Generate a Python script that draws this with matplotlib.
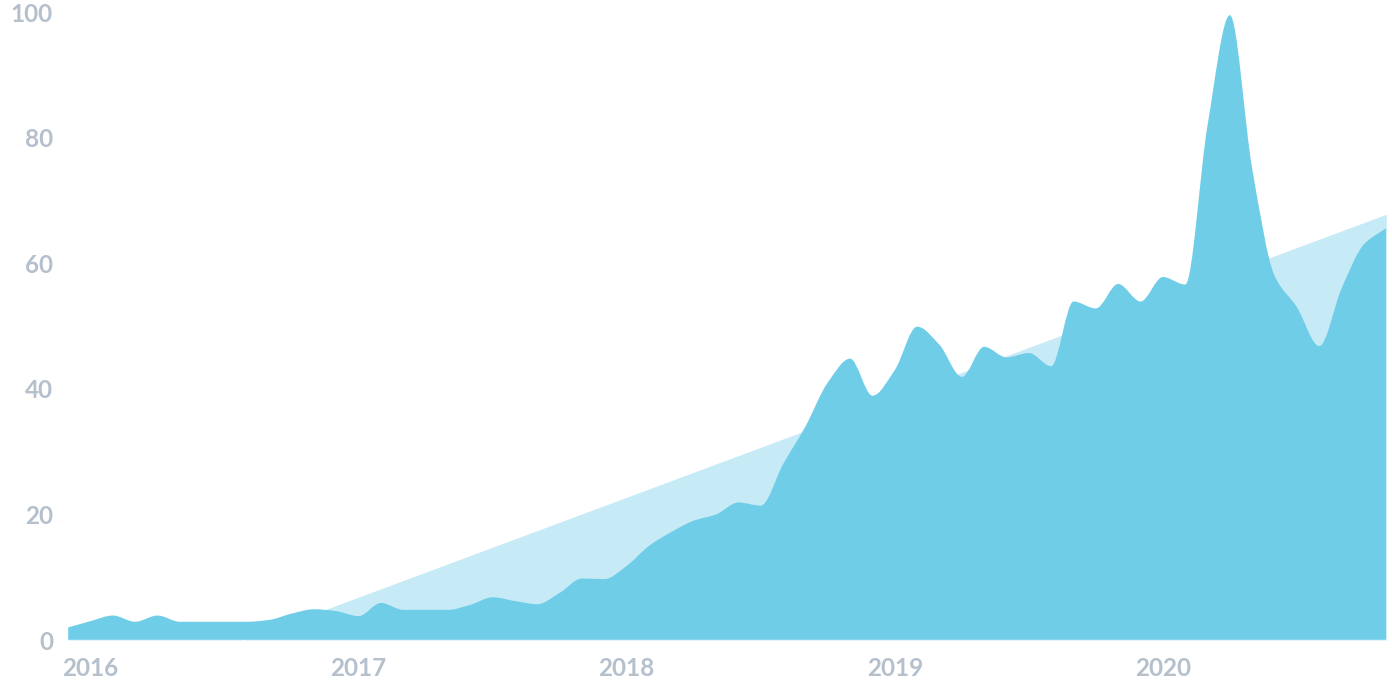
import numpy as np
import matplotlib
matplotlib.use("Agg")
import matplotlib.pyplot as plt
from matplotlib.path import Path
from matplotlib.patches import PathPatch

# ---- data (monthly, Dec 2015 .. Nov 2020) ----
start_month = "2015-12"
values = [2, 3, 3.9, 2.9, 3.9, 2.9, 2.9, 2.9, 2.9, 3.2, 4.2, 4.9, 4.6, 3.8,   # Dec15 .. Jan17
          5.9, 4.8, 4.8, 4.8, 5.6, 6.8, 6.2, 5.7, 7.5, 9.8, 9.7,          # Feb17 .. Dec17
          11.8, 15, 17.2, 19, 20, 21.9, 21.4, 28, 34, 41, 44.8, 38.9,     # 2018
          43, 49.9, 47, 41.9, 46.7, 45, 45.7, 43.6, 53.9, 52.8, 56.7, 53.9,  # 2019
          57.8, 56.6, 82, 99.5, 75, 58, 53, 46.8, 56, 63, 65.6]          # 2020 (Jan..Nov)
trend_values = [-10.4, 67.8]          # linear trend at first / last month
year_labels = ["2016", "2017", "2018", "2019", "2020"]
y_ticks = [0, 20, 40, 60, 80, 100]

months = np.arange(len(values)) - 1   # months relative to Jan 2016
trend_x = [months[0], months[-1]]
year_pos = [12 * i for i in range(len(year_labels))]

DARK = "#70cde8"
LIGHT = "#c7eaf7"
TXT = "#b5c0cd"

plt.rcParams['font.family'] = ['Lato', 'DejaVu Sans']

fig = plt.figure(figsize=(13.92, 6.96), dpi=100)
W, H = 1392, 696
ax = fig.add_axes([68.2 / W, 1 - 640 / H, (1386.3 - 68.2) / W, (640 - 12) / H])
ax.set_xlim(months[0], months[-1])
ax.set_ylim(0, 100)

# light trend area
ax.fill_between(trend_x, 0, trend_values, color=LIGHT, lw=0, zorder=1)

# dark smooth area: monotone cubic (Fritsch-Carlson) rendered as Bezier path
x = months.astype(float)
y = np.array(values, float)
n = len(x)
h = np.diff(x)
d = np.diff(y) / h
t = np.zeros(n)
t[0] = d[0]
t[-1] = d[-1]
for i in range(1, n - 1):
    if d[i - 1] * d[i] <= 0:
        t[i] = 0.0
    else:
        w1 = 2 * h[i] + h[i - 1]
        w2 = h[i] + 2 * h[i - 1]
        t[i] = (w1 + w2) / (w1 / d[i - 1] + w2 / d[i])
verts = [(x[0], 0.0), (x[0], y[0])]
codes = [Path.MOVETO, Path.LINETO]
for i in range(n - 1):
    dx = h[i] / 3
    verts += [(x[i] + dx, y[i] + dx * t[i]), (x[i + 1] - dx, y[i + 1] - dx * t[i + 1]), (x[i + 1], y[i + 1])]
    codes += [Path.CURVE4] * 3
verts += [(x[-1], 0.0), (x[0], 0.0)]
codes += [Path.LINETO, Path.CLOSEPOLY]
ax.add_patch(PathPatch(Path(verts, codes), facecolor=DARK, edgecolor='none', lw=0, zorder=2))

ax.axhline(0, color="#8fdaef", lw=1.2, zorder=3)

for s in ax.spines.values():
    s.set_visible(False)
ax.set_xticks(year_pos)
ax.set_xticklabels(year_labels)
ax.set_yticks(y_ticks)
ax.tick_params(axis='both', length=0, colors=TXT, labelsize=17.5)
ax.tick_params(axis='y', pad=11)
ax.tick_params(axis='x', pad=12)
for lab in ax.get_xticklabels() + ax.get_yticklabels():
    lab.set_fontweight('bold')
    lab.set_color(TXT)

fig.savefig("out.png", dpi=100, facecolor="white")
